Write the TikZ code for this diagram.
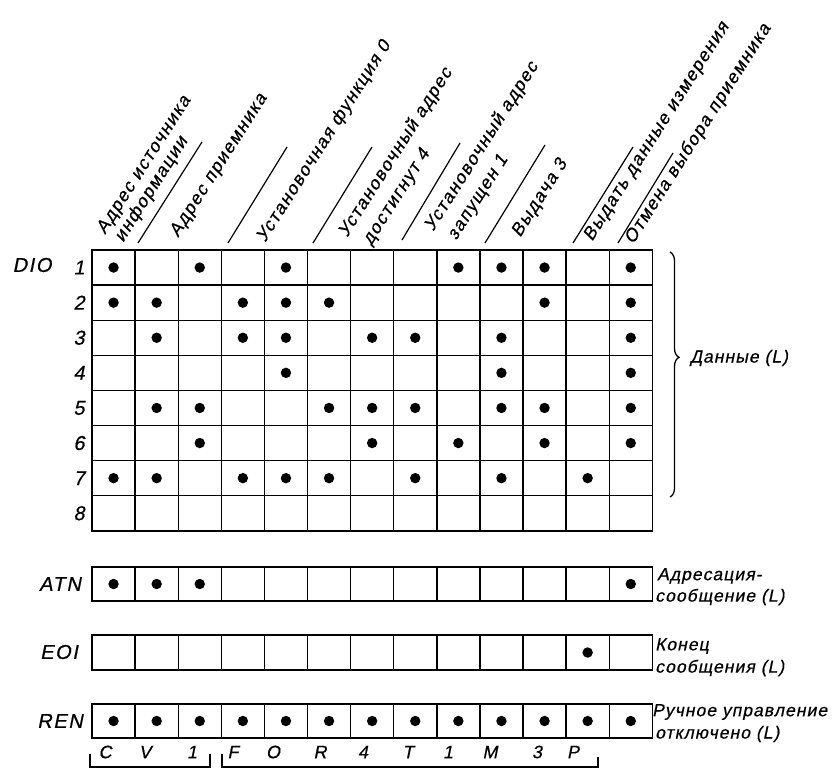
\documentclass[tikz,border=0pt]{standalone}
\usepackage{fontspec}
\setmainfont{Liberation Sans}[FakeSlant=0.2]
\newfontfamily\gf{Liberation Sans}[FakeSlant=0.2,LetterSpace=8,FakeBold=0.6]
\newfontfamily\gfr{Liberation Sans}[FakeSlant=0.2,LetterSpace=6,FakeBold=0.6]
\usetikzlibrary{decorations.pathreplacing}
\begin{document}
\begin{tikzpicture}[x=1pt,y=-1pt,
  lab/.style={font=\gf\fontsize{18}{19}\selectfont, inner sep=0pt},
  biglab/.style={font=\gf\fontsize{20}{21}\selectfont, inner sep=0pt},
  toplab/.style={lab, rotate=57.5, anchor=base west},
  rlab/.style={font=\gfr\fontsize{17.5}{19}\selectfont, inner sep=0pt, anchor=west},
  gridline/.style={line width=1.4pt},
  sepline/.style={line width=1.2pt},
  bracketline/.style={line width=1.1pt}]
\useasboundingbox (0,0) rectangle (837,769);
\def\xo{92}\def\cw{43.1}
% ---- DIO grid
\draw[gridline] (\xo,250) rectangle ({\xo+13*\cw},530.8);
\foreach \i in {1,...,12} \draw[gridline] ({\xo+\cw*\i},250) -- ({\xo+\cw*\i},530.8);
\foreach \j in {1,...,7} \draw[gridline] (\xo,{250+35.1*\j}) -- ({\xo+13*\cw},{250+35.1*\j});
\foreach \r/\cs in {1/{1,3,5,9,10,11,13},2/{1,2,4,5,6,11,13},3/{2,4,5,7,8,10,13},4/{5,10,13},5/{2,3,6,7,8,10,11,13},6/{3,7,9,11,13},7/{1,2,4,5,6,8,10,12}}
  \foreach \c in \cs \fill ({\xo+\cw*(\c-0.5)},{250+35.1*(\r-0.5)}) circle (5.2);
% ---- single rows
\foreach \yt/\yb/\cs [count=\k] in {567/601/{1,2,3,13},635/670/{12},704/738/{1,2,3,4,5,6,7,8,9,10,11,12,13}}{
  \draw[gridline] (\xo,\yt) rectangle ({\xo+13*\cw},\yb);
  \foreach \i in {1,...,12} \draw[gridline] ({\xo+\cw*\i},\yt) -- ({\xo+\cw*\i},\yb);
  \foreach \c in \cs \fill ({\xo+\cw*(\c-0.5)},{(\yt+\yb)/2}) circle (5.2);
}
% ---- left labels
\node[biglab] (dio) at (32,265) {DIO};
\foreach \r in {1,...,8} \node[biglab] (n\r) at (79,{250+35.1*(\r-0.5)}) {\r};
\node[biglab] (atn) at (60,584) {ATN};
\node[biglab] (eoi) at (59,652) {EOI};
\node[biglab] (ren) at (60,721) {REN};
% ---- brace and right labels
\draw[decorate, decoration={brace, amplitude=9pt, aspect=0.43}, line width=1.3pt] (670,252) -- (670,497);
\node[rlab] (dan) at (690,358) {Данные (L)};
\node[rlab] (r1a) at (657,576) {Адресация-};
\node[rlab] (r1b) at (655,597) {сообщение (L)};
\node[rlab] (r2a) at (655,646) {Конец};
\node[rlab] (r2b) at (655,668) {сообщения (L)};
\node[rlab] (r3a) at (652,712) {Ручное управление};
\node[rlab] (r3b) at (655,734) {отключено (L)};
% ---- top labels
\node[toplab] (t1a) at (105,235) {Адрес источника};
\node[toplab] (t1b) at (123,243) {информации};
\node[toplab] (t2) at (178,238) {Адрес приемника};
\node[toplab] (t3) at (265,243) {Установочная функция 0};
\node[toplab] (t4a) at (347,238) {Установочный адрес};
\node[toplab] (t4b) at (371,246) {достигнут 4};
\node[toplab] (t5a) at (433,232) {Установочный адрес};
\node[toplab] (t5b) at (456,241) {запущен 1};
\node[toplab] (t6) at (520,238) {Выдача 3};
\node[toplab] (t7) at (592,242) {Выдать данные измерения};
\node[toplab] (t8) at (633,245) {Отмена выбора приемника};
% separator lines
\draw[sepline] (138,243) -- (202,142);
\draw[sepline] (228,243) -- (287,147);
\draw[sepline] (313,243) -- (372,147);
\draw[sepline] (402,240) -- (460,143);
\draw[sepline] (485,243) -- (545,145);
\draw[sepline] (573,243) -- (633,147);
\draw[sepline] (618,243) -- (673,153);
% ---- bottom letters
\foreach \xx/\tt [count=\k] in {105/C,145/V,192/1,233/F,273/O,320/R,363/4,408/T,448/1,490/M,537/3,573/P}
  \node[lab] (b\k) at (\xx,752) {\tt};
\draw[bracketline] (90,754) -- (90,767) -- (210,767) -- (210,754);
\draw[bracketline] (222,754) -- (222,767) -- (598,767) -- (598,757);
\end{tikzpicture}
\end{document}
